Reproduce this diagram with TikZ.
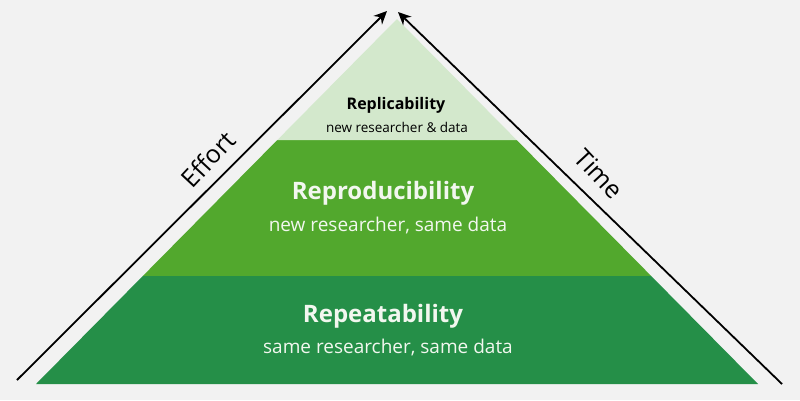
\documentclass[tikz,border=0pt]{standalone}
\usepackage{fontspec}
\setmainfont{Open Sans}
\usetikzlibrary{calc,arrows.meta}
\definecolor{bgray}{HTML}{F2F2F2}
\definecolor{darkg}{HTML}{258F48}
\definecolor{midg}{HTML}{52A82D}
\definecolor{paleg}{HTML}{D3E8CC}
\definecolor{lighttext}{HTML}{F2F7EF}
\tikzset{
	head/.style={font=\fontsize{24}{28}\selectfont\bfseries, text=lighttext},
	sub/.style={font=\fontsize{19}{22}\selectfont, text=lighttext},
	side/.style={font=\fontsize{25}{30}\selectfont}
}
\begin{document}
\begin{tikzpicture}[x=1pt,y=-1pt,>={Stealth[length=13pt,width=12pt]}]
	\path
	%	triangle
	(36,384) coordinate (A)
	(758,384) coordinate (B)
	(397,19) coordinate (S)
	($(A)!.296!(S)$) coordinate (A1)
	($(B)!.296!(S)$) coordinate (B1)
	($(A)!.668!(S)$) coordinate (A2)
	($(B)!.668!(S)$) coordinate (B2)
	%	arrow ends
	(17,380) coordinate (E1)
	(387,11) coordinate (E2)
	(782,384) coordinate (T1)
	(398,12) coordinate (T2)
	;
	\useasboundingbox[fill=bgray] (0,0) rectangle (800,400);
	\fill[darkg] (A)--(B)--(B1)--(A1)--cycle;
	\fill[midg] (A1)--(B1)--(B2)--(A2)--cycle;
	\fill[paleg] (A2)--(B2)--(S)--cycle;
	\draw[line width=1.8pt,->] (E1)--(E2);
	\draw[line width=1.8pt,->] (T1)--(T2);
	\node[head,text=black,font=\fontsize{16}{19}\selectfont\bfseries] (rpl) at (396,105) {Replicability};
	\node[sub,text=black,font=\fontsize{13.5}{16}\selectfont] (rpls) at (397,127) {new researcher \& data};
	\node[head] (rpr) at (383,193) {Reproducibility};
	\node[sub] (rprs) at (388,225) {new researcher, same data};
	\node[head] (rpt) at (383,316) {Repeatability};
	\node[sub] (rpts) at (388,347) {same researcher, same data};
	\node[side,rotate=47] (eff) at (208,159) {Effort};
	\node[side,rotate=-47] (tim) at (599,174) {Time};
\end{tikzpicture}
\end{document}
